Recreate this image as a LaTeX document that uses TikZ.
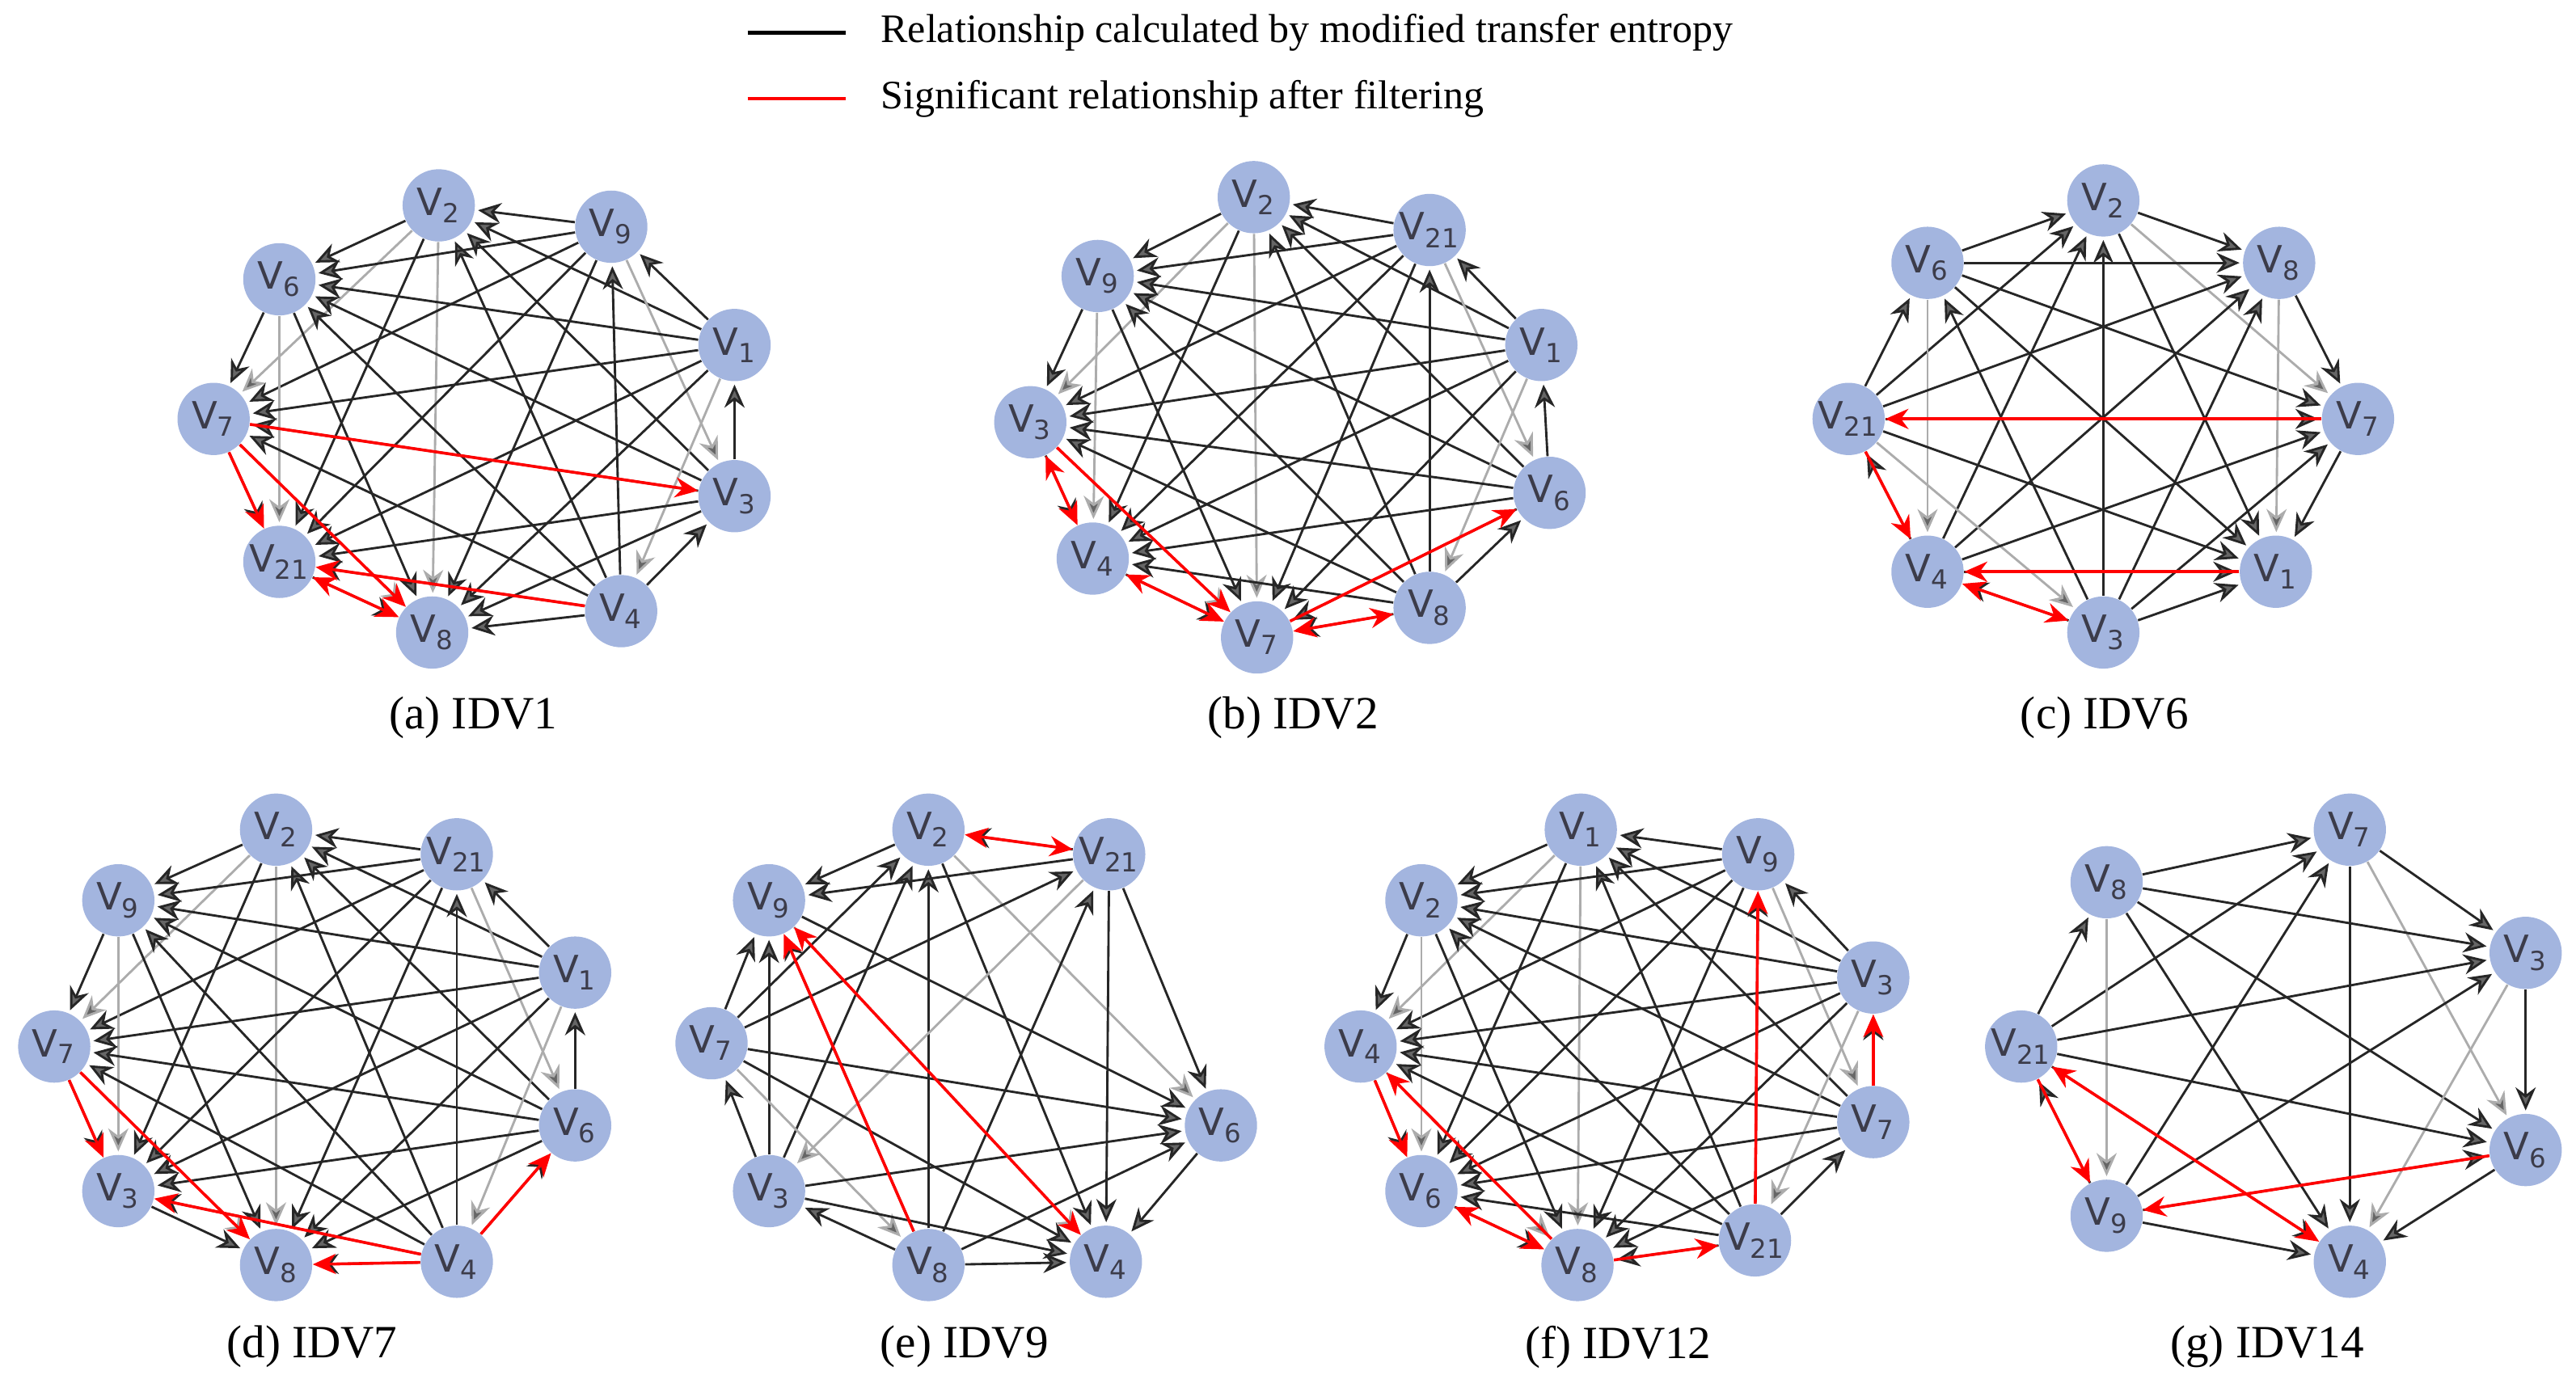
\documentclass[tikz,border=0pt]{standalone}
\usepackage{fontspec}
\setmainfont{Liberation Serif}
\newfontfamily\nodefont{DejaVu Sans}
\usetikzlibrary{arrows.meta}
\definecolor{nodeblue}{HTML}{A3B5DF}
\definecolor{labgray}{HTML}{3C3C4A}
\tikzset{
 vn/.style={circle,fill=nodeblue,draw=none,minimum size=0.88cm,inner sep=0pt,font=\nodefont\fontsize{13}{13}\selectfont,text=labgray},
 eg/.style={draw=black!85,line width=0.8pt,-{Stealth[length=8pt,width=7pt,fill=gray!80!black]},shorten >=1pt},
 eg2/.style={draw=gray!65,line width=0.8pt,-{Stealth[length=8pt,width=7pt,fill=gray!80!black]},shorten >=1pt},
 re/.style={draw=red,line width=1pt,-{Stealth[length=8pt,width=7pt]}},
 rb/.style={draw=red,line width=1pt,{Stealth[length=8pt,width=7pt]}-{Stealth[length=8pt,width=7pt]}},
 captxt/.style={font=\fontsize{16}{16}\selectfont},
}
\newcommand\drawgraph[2]{%
 \foreach \n/\x/\y in {#2} \node[vn] (#1\n) at (\x*0.02,-\y*0.02) {V\textsubscript{\n}};
 \foreach \n/\x/\y [count=\i] in {#2} {
  \foreach \m/\xx/\yy [count=\j] in {#2} {
   \ifnum\i<\j
    \pgfmathtruncatemacro\c{mod(\i*5+\j*3,4)}
    \ifnum\c=0 \draw[eg2] (#1\n)--(#1\m);
    \else \ifodd\j \draw[eg] (#1\n)--(#1\m); \else \draw[eg] (#1\m)--(#1\n); \fi
    \fi
   \fi}}}
\begin{document}
\begin{tikzpicture}
\useasboundingbox (0,0) rectangle (31.36,-16.9);
% legend
\draw[black,line width=1.2pt] (9.1,-0.4)--(10.3,-0.4);
\node[anchor=west,font=\fontsize{14}{14}\selectfont] at (10.6,-0.4) {Relationship calculated by modified transfer entropy};
\draw[red,line width=1.2pt] (9.1,-1.2)--(10.3,-1.2);
\node[anchor=west,font=\fontsize{14}{14}\selectfont] at (10.6,-1.2) {Significant relationship after filtering};
% (a)
\drawgraph{a}{2/267/125,9/372/138,6/170/170,1/447/210,7/130/255,3/447/302,21/170/342,4/378/372,8/263/385}
\draw[re] (a7)--(a3); \draw[re] (a7)--(a21); \draw[re] (a7)--(a8); \draw[re] (a4)--(a21); \draw[rb] (a8)--(a21);
\node[captxt] at (5.76,-8.74) {(a) IDV1};
% (b)
\drawgraph{b}{2/763/120,21/870/140,9/668/168,1/938/210,3/627/257,6/943/300,4/665/340,8/870/370,7/765/388}
\draw[rb] (b3)--(b4); \draw[re] (b3)--(b7); \draw[rb] (b4)--(b7); \draw[rb] (b7)--(b8); \draw[re] (b7)--(b6);
\node[captxt] at (15.74,-8.74) {(b) IDV2};
% (c)
\drawgraph{c}{2/1280/122,6/1173/160,8/1387/160,21/1125/255,7/1435/255,4/1173/348,1/1385/348,3/1280/385}
\draw[re] (c7)--(c21); \draw[re] (c21)--(c4); \draw[re] (c1)--(c4); \draw[rb] (c3)--(c4);
\node[captxt] at (25.62,-8.74) {(c) IDV6};
% (d)
\drawgraph{d}{2/168/505,21/278/520,9/72/548,1/350/592,7/33/637,6/350/685,3/72/725,4/278/768,8/168/770}
\draw[re] (d7)--(d3); \draw[re] (d7)--(d8); \draw[re] (d4)--(d3); \draw[re] (d4)--(d8); \draw[re] (d4)--(d6);
\node[captxt] at (3.8,-16.4) {(d) IDV7};
% (e)
\drawgraph{e}{2/565/505,21/675/520,9/468/548,7/433/635,6/743/685,3/468/725,4/673/768,8/565/770}
\draw[rb] (e2)--(e21); \draw[re] (e8)--(e9); \draw[rb] (e9)--(e4);
\node[captxt] at (11.74,-16.4) {(e) IDV9};
% (f)
\drawgraph{f}{1/962/505,9/1070/520,2/865/548,3/1140/595,4/828/637,7/1140/683,6/865/725,21/1068/755,8/960/770}
\draw[re] (f21)--(f9); \draw[re] (f7)--(f3); \draw[re] (f4)--(f6); \draw[re] (f8)--(f4); \draw[rb] (f8)--(f6); \draw[re] (f8)--(f21);
\node[captxt] at (19.7,-16.4) {(f) IDV12};
% (g)
\drawgraph{g}{7/1430/505,8/1282/537,3/1537/580,21/1230/637,6/1537/700,9/1282/740,4/1430/768}
\draw[re] (g21)--(g9); \draw[rb] (g21)--(g4); \draw[re] (g6)--(g9);
\node[captxt] at (27.6,-16.4) {(g) IDV14};
\end{tikzpicture}
\end{document}
